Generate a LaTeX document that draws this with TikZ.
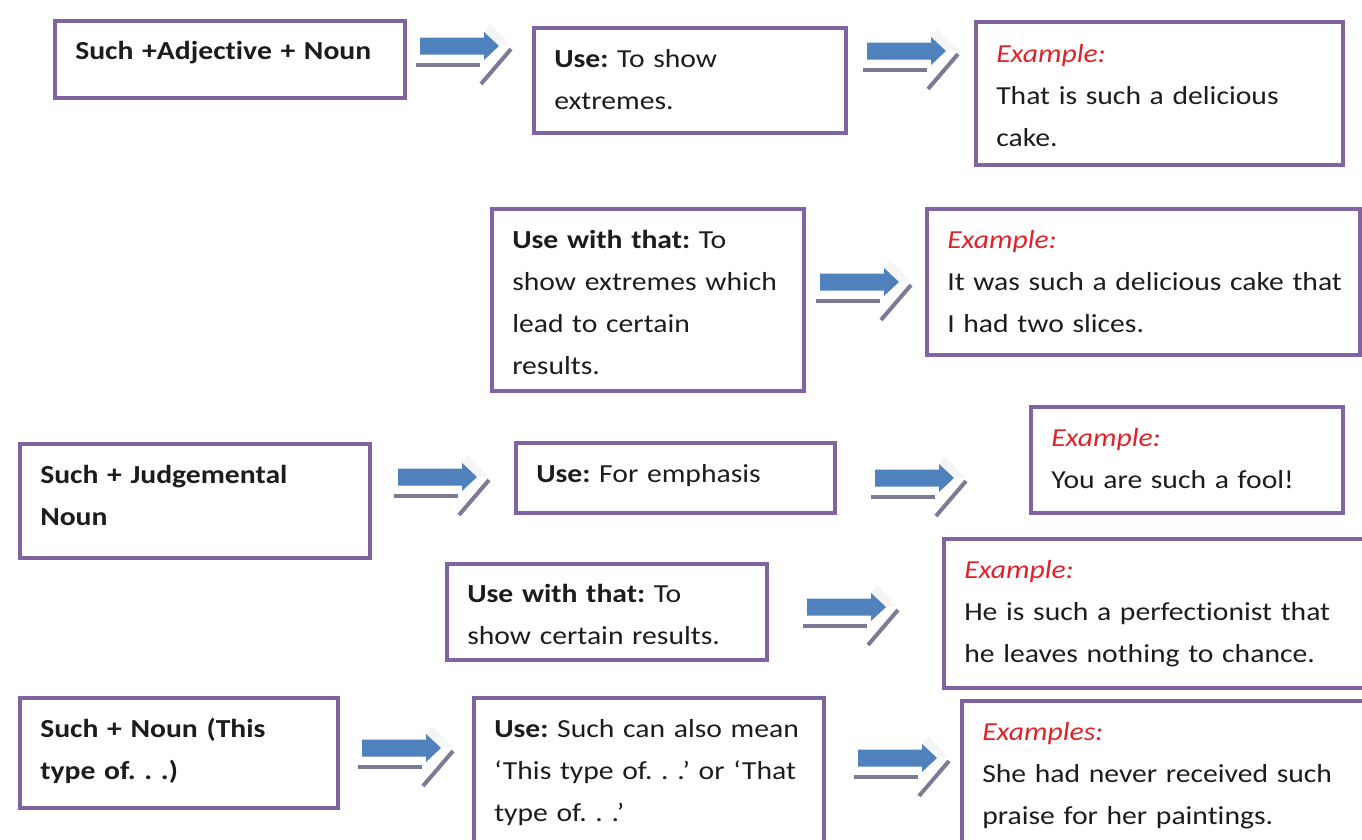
\documentclass[tikz,border=0pt]{standalone}
\usepackage{fontspec}
\setmainfont{Carlito}[FakeStretch=1.14, Ligatures=NoCommon]
\usepackage{tikz}

\definecolor{boxpurple}{RGB}{128,100,162}
\definecolor{arrowblue}{RGB}{79,129,189}
\definecolor{shadowgray}{RGB}{125,123,148}
\definecolor{exred}{RGB}{222,36,42}
\definecolor{textdark}{RGB}{28,28,28}

\newcommand{\exlabel}[1]{\textcolor{exred}{\textit{#1}}}

\tikzset{
  gbox/.style={draw=boxpurple, line width=3pt},
  boxsize/.style 2 args={minimum width=#1*0.75pt, minimum height=#2*0.75pt, anchor=north west, inner sep=0pt},
  txt/.style={anchor=north west, inner sep=0pt, align=left, text=textdark, text width=500*0.75pt,
    font=\fontsize{19.5}{31.5}\selectfont\frenchspacing, execute at begin node=\strut},
  shadowline/.style={draw=shadowgray, line width=3pt},
  fwdarrow/.pic={
    \fill[gray!8] (64,14) -- (70,22) -- (90,1) -- (79,0) -- cycle;
    \draw[shadowline] (-4,-19) -- (60,-19);
    \draw[shadowline] (61,-38) -- (91,-3);
    \fill[arrowblue] (0,-8.5) -- (64,-8.5) -- (64,-14) -- (79,0) -- (64,14) -- (64,8.5) -- (0,8.5) -- cycle;
  }
}

\begin{document}
\begin{tikzpicture}[x=0.75pt,y=0.75pt,yscale=-1,xscale=1]
\useasboundingbox (0,0) rectangle (1362,839);

%Shape: Rectangle [row 1]
\node[gbox, boxsize={350}{77}] (adj) at (53,19) {};
\node[gbox, boxsize={312}{105}] (use1) at (532,26) {};
\node[gbox, boxsize={367}{143}] (ex1) at (974,20) {};
%Shape: Rectangle [row 2]
\node[gbox, boxsize={312}{182}] (usethat1) at (490,207) {};
\node[gbox, boxsize={433}{146}] (ex2) at (925,207) {};
%Shape: Rectangle [row 3]
\node[gbox, boxsize={350}{114}] (judg) at (18,442) {};
\node[gbox, boxsize={319}{70}] (use2) at (514,441) {};
\node[gbox, boxsize={312}{106}] (ex3) at (1029,405) {};
%Shape: Rectangle [row 4]
\node[gbox, boxsize={320}{96}] (usethat2) at (445,562) {};
\node[gbox, boxsize={420}{149}] (ex4) at (942,537) {};
%Shape: Rectangle [row 5]
\node[gbox, boxsize={318}{110}] (typeof) at (18,696) {};
\node[gbox, boxsize={350}{180}] (use3) at (472,696) {};
\node[gbox, boxsize={420}{180}] (ex5) at (960,699) {};

%Shape: Right Arrow
\pic at (420,46) {fwdarrow};
\pic at (867,51) {fwdarrow};
\pic at (820,282) {fwdarrow};
\pic at (398,477) {fwdarrow};
\pic at (875,478) {fwdarrow};
\pic at (807,607) {fwdarrow};
\pic at (362,748) {fwdarrow};
\pic at (858,758) {fwdarrow};

% Text Node
\node[txt] (adj-t) at ([shift={(22,11)}]adj.north west) {\textbf{Such +Adjective + Noun}};
% Text Node
\node[txt] (use1-t) at ([shift={(22,12)}]use1.north west) {\textbf{Use:} To show\\extremes.};
% Text Node
\node[txt] (ex1-t) at ([shift={(22,13)}]ex1.north west) {\exlabel{Example:}\\That is such a delicious\\cake.};
% Text Node
\node[txt] (usethat1-t) at ([shift={(22,12)}]usethat1.north west) {\textbf{Use with that:} To\\show extremes which\\lead to certain\\results.};
% Text Node
\node[txt] (ex2-t) at ([shift={(22,12)}]ex2.north west) {\exlabel{Example:}\\It was such a delicious cake that\\I had two slices.};
% Text Node
\node[txt] (judg-t) at ([shift={(22,12)}]judg.north west) {\textbf{Such + Judgemental}\\\textbf{Noun}};
% Text Node
\node[txt] (use2-t) at ([shift={(22,12)}]use2.north west) {\textbf{Use:} For emphasis};
% Text Node
\node[txt] (ex3-t) at ([shift={(22,12)}]ex3.north west) {\exlabel{Example:}\\You are such a fool!};
% Text Node
\node[txt] (usethat2-t) at ([shift={(22,11)}]usethat2.north west) {\textbf{Use with that:} To\\show certain results.};
% Text Node
\node[txt] (ex4-t) at ([shift={(22,12)}]ex4.north west) {\exlabel{Example:}\\He is such a perfectionist that\\he leaves nothing to chance.};
% Text Node
\node[txt] (typeof-t) at ([shift={(22,12)}]typeof.north west) {\textbf{Such + Noun (This}\\\textbf{type of. . .)}};
% Text Node
\node[txt] (use3-t) at ([shift={(22,12)}]use3.north west) {\textbf{Use:} Such can also mean\\‘This type of. . .’ or ‘That\\type of. . .’};
% Text Node
\node[txt] (ex5-t) at ([shift={(22,12)}]ex5.north west) {\exlabel{Examples:}\\She had never received such\\praise for her paintings.};

\end{tikzpicture}
\end{document}
